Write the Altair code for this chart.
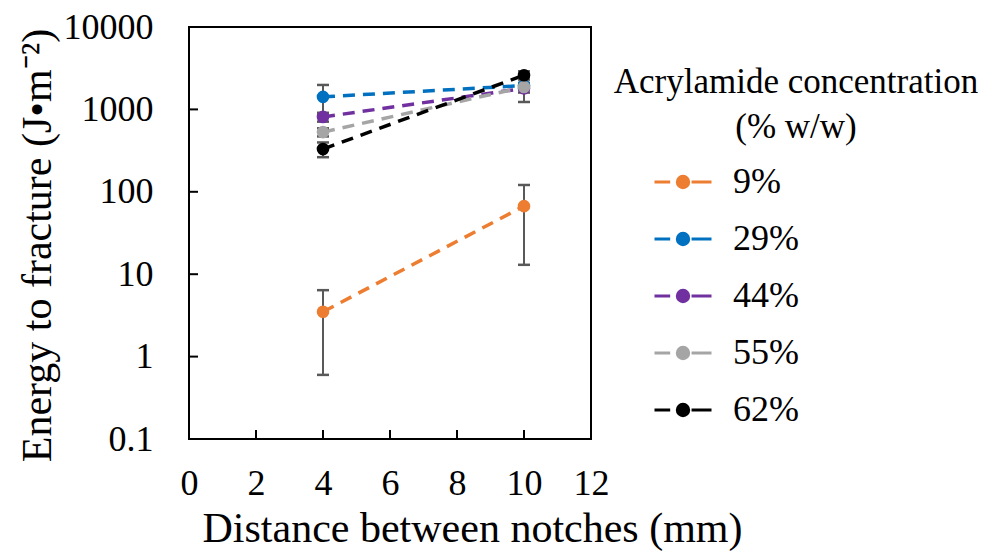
import altair as alt
import pandas as pd

# ---- data ----
concentrations = ["9%", "29%", "44%", "55%", "62%"]
distances = [4, 10]
energy_9 = [3.5, 67]
energy_29 = [1420, 1950]
energy_44 = [810, 1800]
energy_55 = [530, 1870]
energy_62 = [330, 2600]
err_9 = [2.9, 54]
err_29 = [560, 150]
err_44 = [100, 200]
err_55 = [60, 640]
err_62 = [67, 300]
colors = ["#ED7D31", "#0070C0", "#7030A0", "#A5A5A5", "#000000"]
y_ticks = [0.1, 1, 10, 100, 1000, 10000]
x_ticks = [0, 2, 4, 6, 8, 10, 12]

series = [energy_9, energy_29, energy_44, energy_55, energy_62]
errors = [err_9, err_29, err_44, err_55, err_62]
rows = []
for i, (c, vals, errs) in enumerate(zip(concentrations, series, errors)):
    for d, v, e in zip(distances, vals, errs):
        rows.append({"conc": c, "idx": i, "dist": d, "energy": v, "lo": v - e, "hi": v + e})
df = pd.DataFrame(rows)

ytick_df = pd.DataFrame({"v": y_ticks[1:-1]})
xtick_df = pd.DataFrame({"v": x_ticks[1:-1]})

FONT = "'Liberation Serif', 'Times New Roman', serif"

xscale = alt.Scale(domain=[0, 12], nice=False)
yscale = alt.Scale(type="log", domain=[0.1, 10000], nice=False)
cscale = alt.Scale(domain=concentrations, range=colors)

xenc = alt.X("dist:Q", scale=xscale,
             axis=alt.Axis(values=x_ticks, title="Distance between notches (mm)",
                           tickSize=0, labelPadding=27, labelFlush=False,
                           titleX=283, titleY=102, titleBaseline="alphabetic", grid=False))
yenc = alt.Y("energy:Q", scale=yscale,
             axis=alt.Axis(values=y_ticks, title="Energy to fracture (J•m⁻²)",
                           labelExpr="datum.value < 1 ? format(datum.value, '.1f') : format(datum.value, 'd')",
                           tickSize=0, labelPadding=36, labelFlush=False,
                           titleX=-152, titleY=218, titleBaseline="middle", grid=False))

# dash - filled dot - dash (dot made of concentric rings so it looks solid)
legend_path = ("M-1,0L-0.45,0M0.3,0L1,0"
               "M-0.05,0A0.05,0.05,0,1,1,0.05,0A0.05,0.05,0,1,1,-0.05,0Z"
               "M-0.1,0A0.1,0.1,0,1,1,0.1,0A0.1,0.1,0,1,1,-0.1,0Z"
               "M-0.15,0A0.15,0.15,0,1,1,0.15,0A0.15,0.15,0,1,1,-0.15,0Z"
               "M-0.2,0A0.2,0.2,0,1,1,0.2,0A0.2,0.2,0,1,1,-0.2,0Z")

lines = alt.Chart(df).mark_line(strokeDash=[12, 8], strokeWidth=3.5).encode(
    x=xenc, y=yenc,
    color=alt.Color("conc:N", scale=cscale,
                    legend=alt.Legend(title=["Acrylamide concentration", "(% w/w)"],
                                      orient="none", legendX=425, legendY=38,
                                      symbolType=legend_path, symbolSize=3249,
                                      symbolStrokeWidth=3, symbolOffset=-141,
                                      symbolDash=[100, 0],
                                      labelOffset=20, rowPadding=9, padding=0,
                                      titleAlign="center", titleAnchor="middle",
                                      titleLineHeight=45, titlePadding=7)),
    detail="conc:N")

err_rule = alt.Chart(df).mark_rule(color="#595959", strokeWidth=2).encode(
    x=alt.X("dist:Q", scale=xscale), y=alt.Y("lo:Q", scale=yscale), y2="hi:Q")
err_cap_hi = alt.Chart(df).mark_rule(color="#595959", strokeWidth=2.5, xOffset=-6, x2Offset=6).encode(
    x=alt.X("dist:Q", scale=xscale), x2="dist:Q", y=alt.Y("hi:Q", scale=yscale))
err_cap_lo = alt.Chart(df).mark_rule(color="#595959", strokeWidth=2.5, xOffset=-6, x2Offset=6).encode(
    x=alt.X("dist:Q", scale=xscale), x2="dist:Q", y=alt.Y("lo:Q", scale=yscale))

points = alt.Chart(df).mark_point(filled=True, size=160, opacity=1).encode(
    x=alt.X("dist:Q", scale=xscale),
    y=alt.Y("energy:Q", scale=yscale),
    color=alt.Color("conc:N", scale=cscale, legend=None),
    order=alt.Order("idx:Q"),
)

yticks = alt.Chart(ytick_df).mark_rule(color="black", strokeWidth=2).encode(
    y=alt.Y("v:Q", scale=yscale), x=alt.value(0), x2=alt.value(9))
xticks = alt.Chart(xtick_df).mark_rule(color="black", strokeWidth=2).encode(
    x=alt.X("v:Q", scale=xscale), y=alt.value(412), y2=alt.value(403))

chart = alt.layer(lines, err_rule, err_cap_hi, err_cap_lo, points, yticks, xticks).properties(
    width=402, height=412,
    autosize=alt.AutoSizeParams(type="none"),
    padding={"left": 181, "top": 19, "right": 390, "bottom": 113},
    background="white",
).configure_view(stroke="black", strokeWidth=2).configure_axis(
    labelFont=FONT, titleFont=FONT, labelFontSize=36, titleFontSize=42,
    labelColor="black", titleColor="black", titleFontWeight="normal",
    domain=False,
).configure_legend(
    titleFont=FONT, labelFont=FONT, titleFontSize=35, labelFontSize=36,
    titleColor="black", labelColor="black", titleFontWeight="normal",
    titleLimit=1000, labelLimit=300,
)

chart.save("out.html", embed_options={"renderer": "svg", "actions": False})
